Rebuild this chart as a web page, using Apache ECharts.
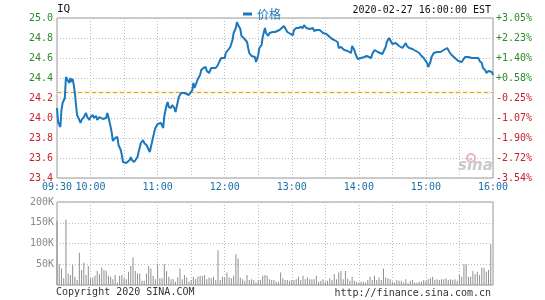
<!DOCTYPE html>
<html><head><meta charset="utf-8">
<script src="https://cdn.jsdelivr.net/npm/echarts@6/dist/echarts.min.js"></script>
<style>html,body{margin:0;padding:0;background:#fff}#c{width:545px;height:300px}</style>
</head><body><div id="c"></div>
<script>
const symbol = 'IQ';
const stamp = '2020-02-27 16:00:00 EST';
const seriesName = '价格';
const prevClose = 24.26;
const copyright = 'Copyright 2020 SINA.COM';
const siteUrl = 'http://finance.sina.com.cn';

// minutes since 09:30
const minutes = [
0,1,3,4,5,6,7,8,9,11,
12,13,14,15,16,17,18,20,21,22,
24,26,27,29,30,32,33,35,36,38,
39,41,42,44,45,46,48,49,50,52,
53,54,55,57,58,59,60,62,63,65,
66,67,69,70,72,73,74,75,77,78,
80,81,83,84,85,87,88,90,91,93,
95,96,98,99,100,102,103,105,106,108,
109,111,112,114,116,118,119,121,122,123,
125,126,128,129,131,133,134,136,137,138,
140,142,144,145,147,148,150,151,153,154,
155,157,158,160,161,162,164,165,167,168,
170,171,172,174,175,177,178,180,181,183,
184,186,187,189,190,191,193,195,197,199,
201,203,204,206,207,209,211,212,214,216,
218,220,221,223,224,226,227,229,230,232,
233,235,236,238,239,241,242,244,246,248,
249,251,252,254,255,257,258,260,261,263,
264,266,267,269,270,272,273,275,277,279,
281,282,284,285,287,288,289,291,292,294,
295,297,298,300,301,303,304,306,307,309,
310,312,313,315,316,318,319,321,322,324,
325,326,328,329,331,332,334,335,337,338,
340,341,343,344,346,347,349,350,351,353,
354,356,357,359,360,362,363,365,366,368,
369,371,372,374,375,377,378,380,381,383,
384,386,387,389,390];
const prices = [
24.10,23.96,23.91,24.08,24.15,24.13,24.20,24.41,24.40,24.35,
24.40,24.36,24.39,24.33,24.25,24.13,24.03,23.98,23.95,23.98,
24.01,24.05,24.01,23.98,24.01,24.03,24.00,24.02,23.98,24.01,
24.00,23.99,24.01,24.00,24.05,24.01,23.91,23.85,23.77,23.80,
23.79,23.81,23.73,23.68,23.63,23.56,23.54,23.55,23.57,23.58,
23.61,23.58,23.56,23.56,23.61,23.66,23.68,23.75,23.78,23.75,
23.73,23.71,23.66,23.71,23.76,23.86,23.90,23.94,23.95,23.95,
23.90,24.02,24.13,24.16,24.11,24.10,24.13,24.10,24.06,24.16,
24.21,24.25,24.27,24.25,24.24,24.23,24.23,24.28,24.35,24.30,
24.36,24.39,24.43,24.48,24.50,24.51,24.47,24.45,24.46,24.50,
24.50,24.50,24.53,24.56,24.60,24.62,24.60,24.65,24.68,24.67,
24.71,24.78,24.85,24.90,24.96,24.93,24.89,24.82,24.80,24.81,
24.76,24.70,24.65,24.62,24.60,24.61,24.56,24.63,24.70,24.73,
24.81,24.90,24.85,24.82,24.85,24.83,24.86,24.86,24.87,24.88,
24.90,24.92,24.90,24.86,24.85,24.84,24.83,24.88,24.90,24.90,
24.91,24.90,24.93,24.90,24.90,24.89,24.88,24.90,24.87,24.88,
24.86,24.88,24.89,24.85,24.86,24.84,24.83,24.81,24.79,24.78,
24.79,24.76,24.70,24.71,24.73,24.68,24.70,24.67,24.66,24.65,
24.72,24.68,24.64,24.59,24.57,24.60,24.62,24.61,24.62,24.61,
24.60,24.64,24.68,24.67,24.66,24.64,24.65,24.64,24.66,24.71,
24.76,24.80,24.78,24.74,24.73,24.75,24.73,24.72,24.74,24.70,
24.71,24.75,24.72,24.70,24.68,24.69,24.68,24.67,24.66,24.65,
24.63,24.62,24.60,24.58,24.55,24.51,24.56,24.61,24.65,24.65,
24.66,24.66,24.66,24.67,24.68,24.69,24.70,24.71,24.66,24.63,
24.61,24.60,24.59,24.57,24.55,24.56,24.58,24.61,24.62,24.61,
24.62,24.60,24.61,24.60,24.58,24.60,24.57,24.55,24.50,24.48,
24.45,24.47,24.49,24.46,24.43];

// volume, thousands of shares, one bar per 2 minutes from 09:30
const volStepMinutes = 2;
const volumesK = [
154,50,40,16,158,28,24,48,20,12,
78,36,54,24,46,16,18,22,34,26,
42,36,34,22,20,14,24,6,22,24,
16,14,32,46,66,34,28,28,10,10,
28,46,40,22,14,50,16,16,50,34,
20,14,14,8,18,40,14,24,18,8,
12,20,14,20,22,22,24,14,18,16,
20,12,84,12,20,18,30,18,16,22,
74,64,18,14,10,24,12,14,12,6,
12,12,22,24,22,14,12,12,8,8,
30,16,12,12,10,12,12,14,20,12,
22,14,18,14,14,14,22,8,10,14,
8,10,16,12,26,14,30,34,14,34,
15,10,20,10,8,6,8,8,6,12,
20,12,22,12,18,12,40,18,16,14,
8,6,12,10,10,6,14,4,10,12,
6,6,8,8,12,10,14,16,20,12,
14,12,14,14,16,12,14,12,14,10,
24,20,50,50,20,20,34,26,32,24,
42,41,32,36,98];

const xLabelMinutes = [0,30,90,150,210,270,330,390];
const xLabels = ['09:30','10:00','11:00','12:00','13:00','14:00','15:00','16:00'];
const priceMin = 23.4, priceMax = 25.0, priceStep = 0.2;
const volMax = 200, volStep = 50;

const MONO = 'DejaVu Sans Mono';
const LINE = '#1a78be';
const GRIDC = '#bdbdbd';

const chart = echarts.init(document.getElementById('c'));
const pricePts = minutes.map((m, i) => [m, prices[i]]);
const volPts = volumesK.map((v, i) => [i * volStepMinutes, v]);

const xCommon = {
  type: 'value', min: 0, max: 390, interval: 30,
  axisLine: {show: false}, axisTick: {show: false},
  splitLine: {show: true, lineStyle: {color: GRIDC, type: [1, 2], width: 1}}
};

chart.setOption({
  animation: false,
  backgroundColor: '#fff',
  legend: {
    data: [seriesName], left: 238, top: 3,
    icon: 'rect', itemWidth: 9, itemHeight: 3, itemGap: 4,
    textStyle: {color: LINE, fontSize: 12, fontFamily: 'Noto Sans CJK SC'}
  },
  grid: [
    {left: 57, top: 18, width: 436, height: 160, show: true, borderColor: '#9a9a9a', borderWidth: 1},
    {left: 57, top: 202, width: 436, height: 83, show: true, borderColor: '#9a9a9a', borderWidth: 1}
  ],
  xAxis: [
    Object.assign({}, xCommon, {gridIndex: 0,
      axisLabel: {margin: 4, fontFamily: MONO, fontSize: 10, color: '#1d6fa5',
        formatter: v => { const k = xLabelMinutes.indexOf(Math.round(v)); return k >= 0 ? xLabels[k] : ''; }}}),
    Object.assign({}, xCommon, {gridIndex: 1, axisLabel: {show: false}})
  ],
  yAxis: [
    {gridIndex: 0, type: 'value', min: priceMin, max: priceMax, interval: priceStep, position: 'left',
      axisLine: {show: false}, axisTick: {show: false},
      splitLine: {show: true, lineStyle: {color: GRIDC, type: [1, 2]}},
      axisLabel: {margin: 4, fontFamily: MONO, fontSize: 10,
        formatter: v => Number(v).toFixed(1),
        color: v => parseFloat(v) > prevClose ? '#2b8a2b' : '#c8202a'}},
    {gridIndex: 0, type: 'value', min: priceMin, max: priceMax, interval: priceStep, position: 'right',
      axisLine: {show: false}, axisTick: {show: false}, splitLine: {show: false},
      axisLabel: {margin: 3, fontFamily: MONO, fontSize: 10,
        formatter: v => { const p = (v / prevClose - 1) * 100; return (p >= 0 ? '+' : '') + p.toFixed(2) + '%'; },
        color: v => parseFloat(v) > prevClose ? '#2b8a2b' : '#c8202a'}},
    {gridIndex: 1, type: 'value', min: 0, max: volMax, interval: volStep, position: 'left',
      axisLine: {show: false}, axisTick: {show: false},
      splitLine: {show: true, lineStyle: {color: GRIDC, type: [1, 2]}},
      axisLabel: {margin: 3, fontFamily: MONO, fontSize: 10, color: '#8a8a8a',
        formatter: v => Number(v) === 0 ? '' : Math.round(v) + 'K'}}
  ],
  series: [
    {name: 'base', type: 'line', xAxisIndex: 0, yAxisIndex: 0, data: [], z: 1, silent: true,
      markLine: {symbol: 'none', silent: true, label: {show: false}, z: 1,
        lineStyle: {color: '#fcf4d6', width: 3, type: 'solid'}, data: [{yAxis: prevClose}]}},
    {name: seriesName, type: 'line', xAxisIndex: 0, yAxisIndex: 0, data: pricePts, z: 3,
      showSymbol: false, symbol: 'none', lineStyle: {color: LINE, width: 2}, itemStyle: {color: LINE},
      markLine: {symbol: 'none', silent: true, label: {show: false}, z: 2,
        lineStyle: {color: '#e39d3a', width: 1, type: [4, 3]}, data: [{yAxis: prevClose}]}},
    {name: 'vol', type: 'bar', xAxisIndex: 1, yAxisIndex: 2, data: volPts, barWidth: 1,
      itemStyle: {color: '#8f8f8f'}, silent: true}
  ],
  graphic: [
    {type: 'text', left: 57, top: 4, style: {text: symbol, font: '11px ' + MONO, fill: '#111'}},
    {type: 'text', right: 54, top: 5, style: {text: stamp, font: '10px ' + MONO, fill: '#111'}},
    {type: 'text', left: 56, top: 287, style: {text: copyright, font: '10px ' + MONO, fill: '#333'}},
    {type: 'text', right: 54, top: 288, style: {text: siteUrl, font: '10px ' + MONO, fill: '#333'}},
    {type: 'circle', shape: {cx: 471, cy: 158, r: 4}, style: {fill: 'none', stroke: '#f2b3bd', lineWidth: 2}, z: 1},
    {type: 'text', left: 458, top: 159, z: 1, style: {text: 'sina', font: 'italic bold 15px "DejaVu Sans"', fill: '#c9c9c9'}}
  ]
});
</script></body></html>
